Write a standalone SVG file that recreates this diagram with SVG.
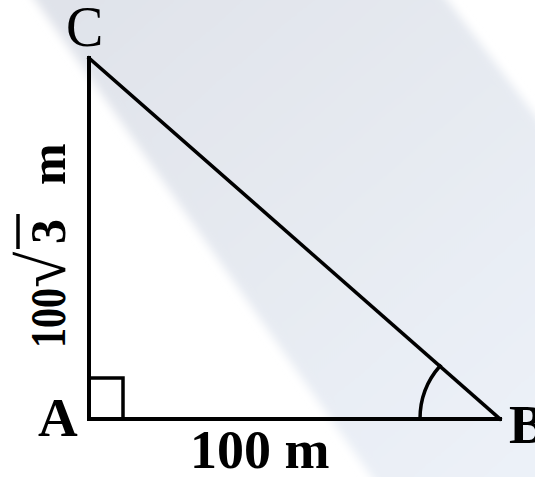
<svg xmlns="http://www.w3.org/2000/svg" width="535" height="477" viewBox="0 0 535 477">
<style>
.ln{fill:none;stroke:#000;stroke-width:4;stroke-linejoin:miter;stroke-linecap:square}
.lbl{font-family:"Liberation Serif","Times New Roman",serif;fill:#000}
.b{font-weight:bold}
</style>
<defs>
<linearGradient id="band" gradientUnits="userSpaceOnUse" x1="90" y1="0" x2="500" y2="477">
<stop offset="0" stop-color="#e0e3ea"/>
<stop offset="1" stop-color="#ecf1f8"/>
</linearGradient>
<filter id="soft" x="-10%" y="-10%" width="120%" height="120%">
<feGaussianBlur stdDeviation="5"/>
</filter>
</defs>
<rect width="535" height="477" fill="#fff"/>
<polygon points="21,-20 432,-20 560,148 560,500 388,500" fill="url(#band)" filter="url(#soft)"/>
<g id="connectors">
<line class="ln" x1="89" y1="58" x2="89" y2="419"/>
<line class="ln" x1="89" y1="419" x2="500" y2="419"/>
<line class="ln" x1="89" y1="58" x2="500" y2="419" style="stroke-width:3.5"/>
</g>
<g id="right-angle">
<polyline class="ln" points="89,378 123,378 123,419" style="stroke-width:3.5"/>
</g>
<g id="angle-B">
<path class="ln" d="M420,419 A80,80 0 0 1 440,366" style="stroke-width:3.5"/>
</g>
<g id="A"><text class="lbl b" x="38" y="436" font-size="55">A</text></g>
<g id="B"><text class="lbl b" x="509" y="443" font-size="55">B</text></g>
<g id="C"><text class="lbl" x="66" y="46" font-size="56">C</text></g>
<g id="label-AB"><text class="lbl b" x="190" y="468" font-size="54">100 m</text></g>
<g id="label-AC" transform="translate(65,348) rotate(-90)">
<text class="lbl b" font-size="50"><tspan x="0" y="0" textLength="60" lengthAdjust="spacingAndGlyphs">100</tspan><tspan x="60" y="0" font-size="66">√</tspan><tspan x="104" y="0">3</tspan><tspan x="163" y="0">m</tspan></text>
<line x1="99" y1="-47" x2="134" y2="-47" stroke="#000" stroke-width="3.5"/>
</g>
</svg>
